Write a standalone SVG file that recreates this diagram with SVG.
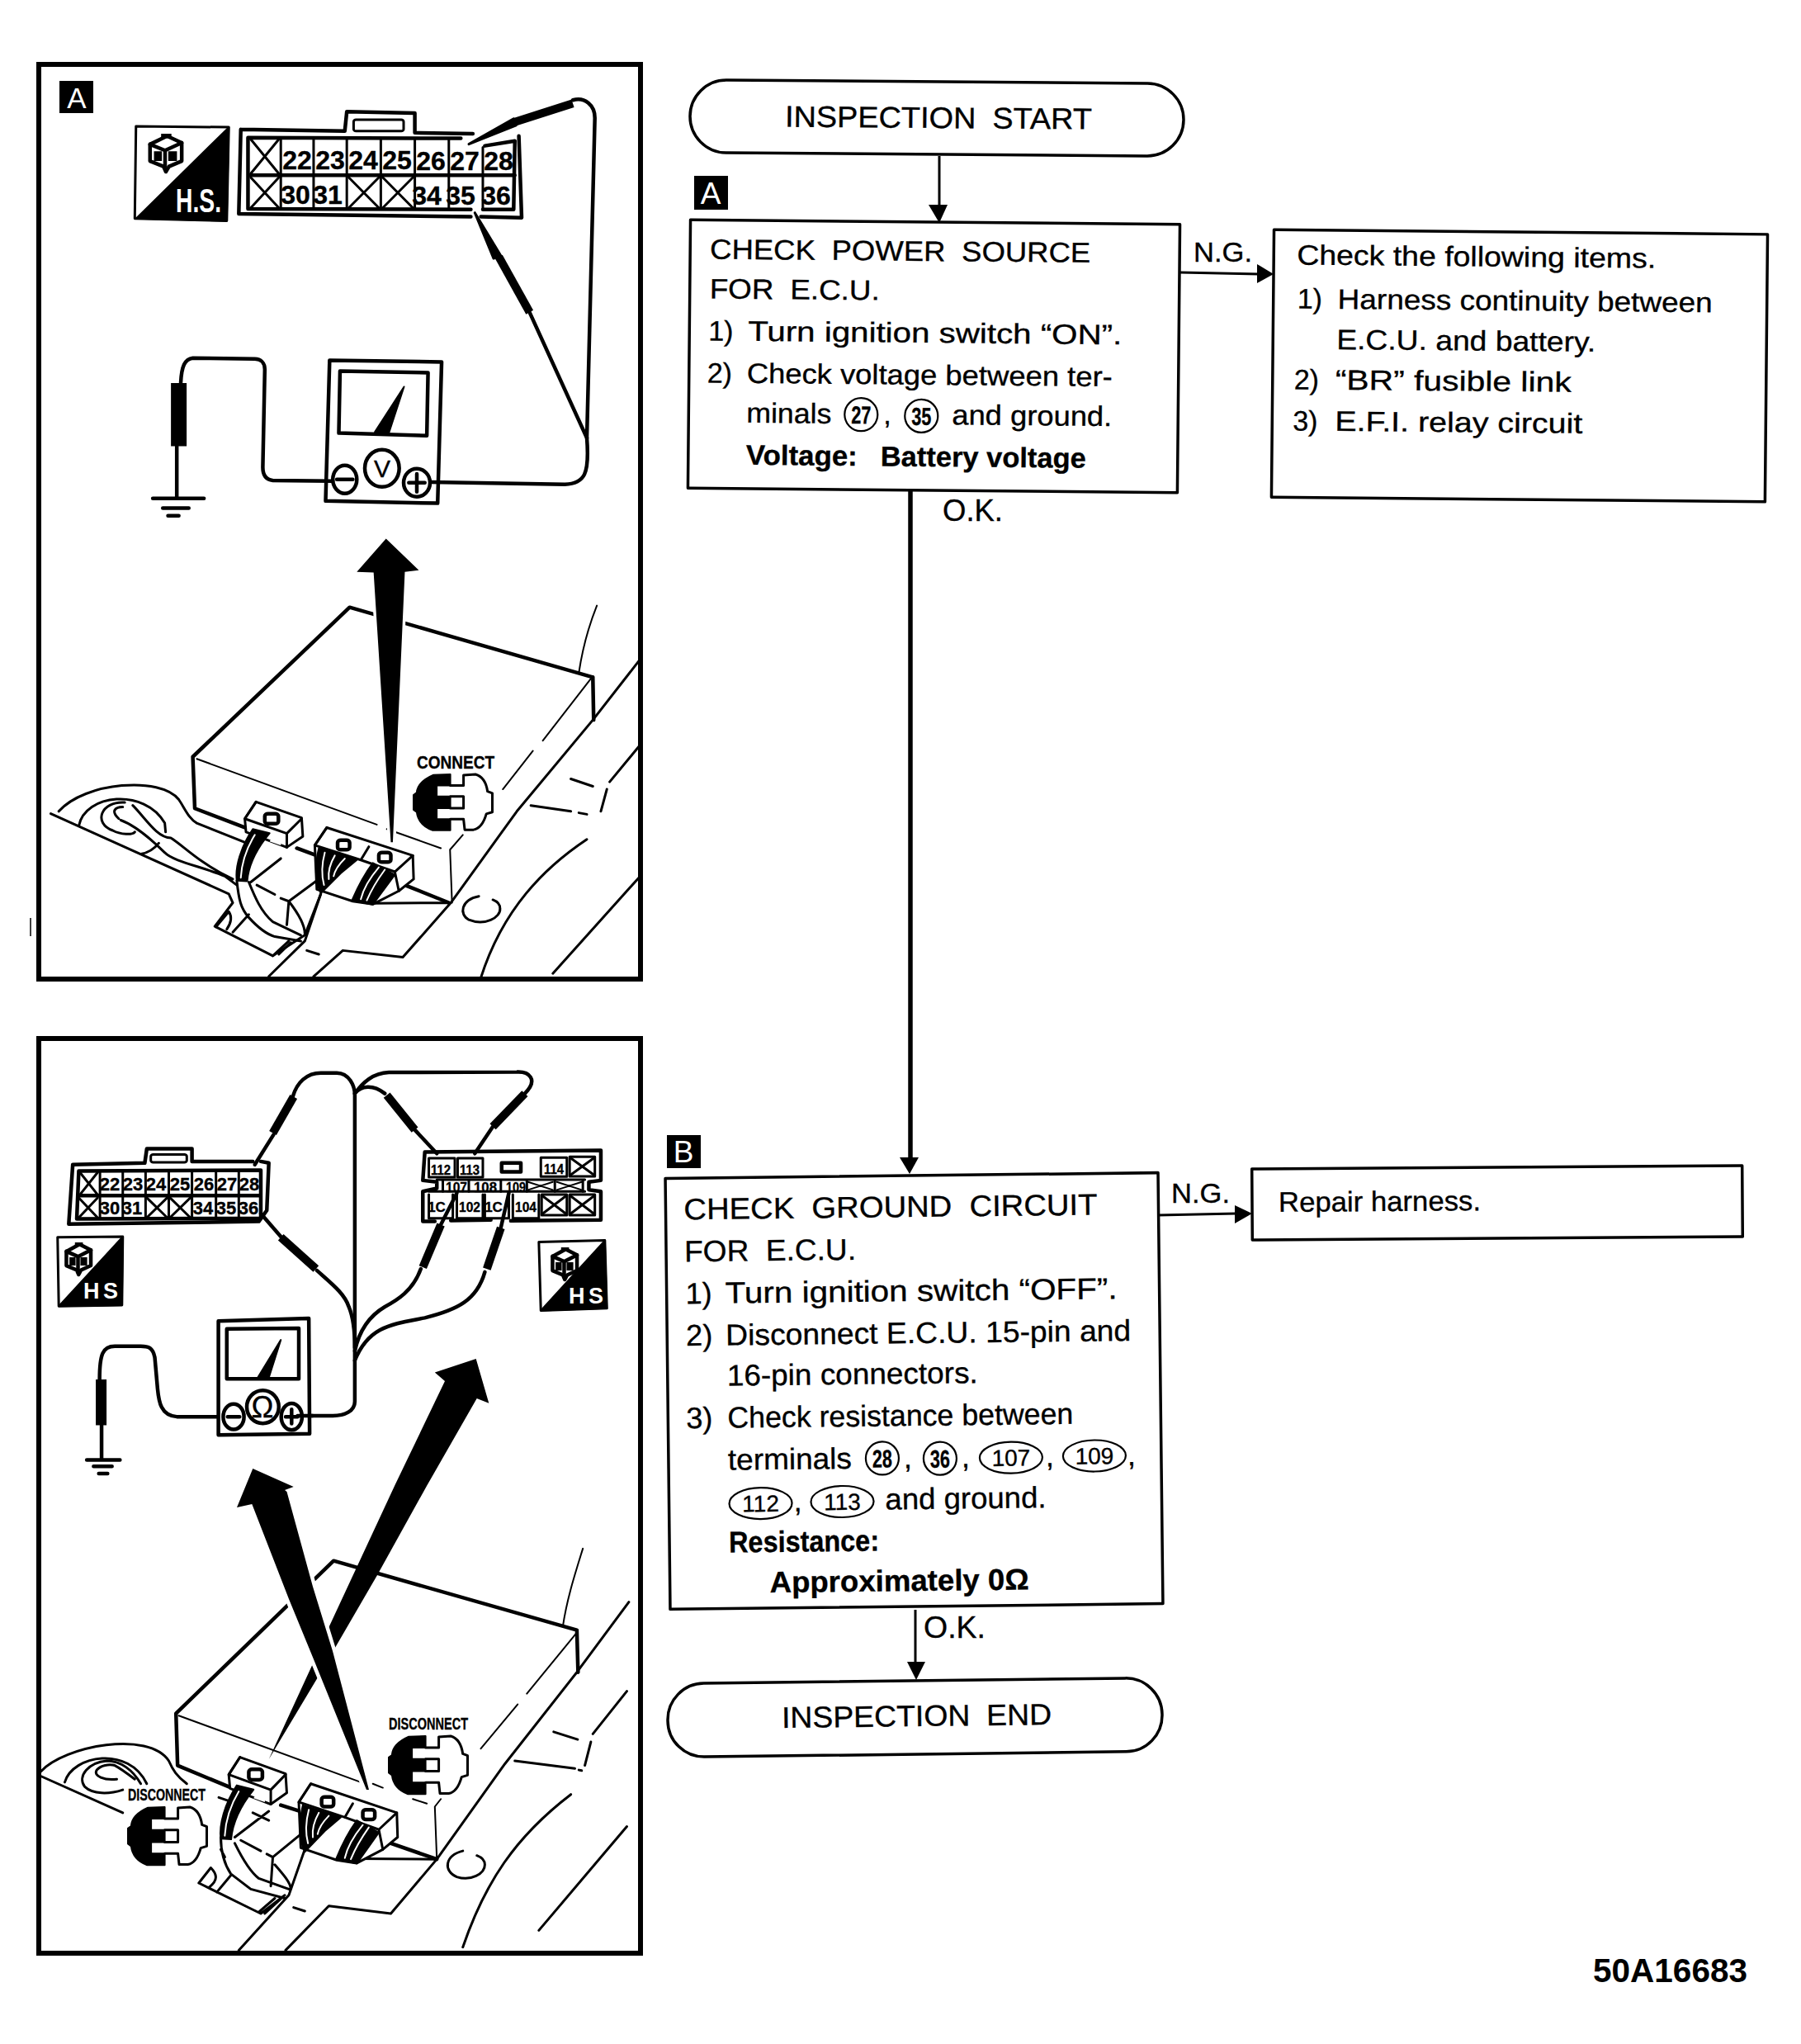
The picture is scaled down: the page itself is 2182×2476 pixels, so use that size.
<svg xmlns="http://www.w3.org/2000/svg" width="2182" height="2476" viewBox="0 0 2182 2476">
<style>
.t{font-family:"Liberation Sans",Arial,sans-serif;fill:#000;stroke:#000;stroke-width:.35}
.b{font-weight:bold}
.w{fill:#fff;stroke:none}
.f34{font-size:34px}.f36{font-size:36px}.f38{font-size:38px}
.n{font-size:32px;font-weight:bold;text-anchor:middle}
.m{font-size:22px;font-weight:bold;text-anchor:middle}
.r{font-size:17px;font-weight:bold;text-anchor:middle}
.c{font-size:30px;font-weight:bold;text-anchor:middle}
.o{font-size:30px;text-anchor:middle}
.box{fill:#fff;stroke:#000;stroke-width:3.5;stroke-linejoin:round}
.oval{fill:none;stroke:#000;stroke-width:2.2}
.line{fill:none;stroke:#000;stroke-width:3}
.head{fill:#000}
.frame{fill:none;stroke:#000;stroke-width:6}
.ill *{vector-effect:non-scaling-stroke}
.ill{fill:none;stroke:#000;stroke-width:2;stroke-linejoin:round;stroke-linecap:round}
.s2{stroke-width:3}.s3{stroke-width:4.5}
.p{stroke-width:10;stroke-linecap:butt}
.k{fill:#000}
.wf{fill:#fff}
.halo{fill:#000;stroke:#fff;stroke-width:9;paint-order:stroke}
</style>
<defs>
<g id="relay" class="ill">
<path class="wf s3" d="M12 28 L55 6 L92 24 L92 72 L60 86 L52 100 L46 86 L12 72 Z"/>
<path class="s3" d="M12 28 L50 44 L92 24 M50 44 L50 86"/>
<path class="k" stroke="none" d="M22 46 h20 v26 h-20z M58 46 h22 v26 h-22z M40 0 h26 v12 h-26z"/>
</g>
<g id="ecu-conn" class="ill">
<path class="wf s2" d="M578 928 L692 982 L695 1045 L655 1082 L553 1030 L550 985 Z"/>
<path class="s2" d="M550 985 L655 1035 L692 985 M655 1035 L655 1082 M578 928 L550 985"/>
<rect class="s3" x="600" y="968" width="34" height="34" rx="8"/>
<path class="k" d="M570 1020 C540 1080 525 1150 530 1195 L556 1197 C560 1130 590 1070 612 1034 Z"/>
<path class="wf" stroke="none" d="M622 1040 L642 1050 L640 1075 L612 1062 Z"/>
<path stroke="#fff" d="M575 1040 C552 1090 542 1140 540 1185"/>
<path class="wf s2" d="M755 1015 L970 1110 L972 1190 L935 1230 L870 1275 L820 1265 L730 1225 L725 1075 Z"/>
<path class="s2" d="M725 1075 L840 1125 L925 1165 L970 1110 M755 1015 L725 1075 M925 1165 L935 1230 M860 1080 L840 1125"/>
<rect class="s3" x="782" y="1058" width="30" height="32" rx="8"/>
<rect class="s3" x="885" y="1100" width="30" height="32" rx="8"/>
<path class="k" d="M735 1085 C725 1140 725 1200 740 1238 L790 1170 L830 1125 Z"/>
<path class="k" d="M870 1135 C840 1190 825 1240 818 1262 L870 1276 L925 1175 Z"/>
<path stroke="#fff" d="M750 1100 C742 1140 742 1180 748 1210 M775 1110 C762 1140 758 1165 760 1190 M800 1120 C785 1140 775 1160 772 1180 M885 1150 C860 1190 845 1230 840 1258 M900 1158 C880 1195 865 1230 855 1262"/>
</g>
<g id="plug" class="ill">
<path class="k" d="M92 0 L50 2 Q10 25 8 62 L0 70 L0 120 L8 128 Q12 172 48 190 L92 190 L92 152 L58 152 L58 115 L92 115 L92 75 L58 75 L58 38 L92 38 Z"/>
<path class="s2" d="M92 38 L125 38 L125 3 L155 0 Q180 10 185 58 L197 64 L197 128 L182 134 Q172 182 150 188 L128 188 L125 152 L92 152 M92 115 L125 115 L125 75 L92 75"/>
</g>
</defs>
<rect width="2182" height="2476" fill="#fff"/>

<!-- PANEL A -->
<g id="panel-a">
<rect class="frame" x="47" y="78" width="729" height="1108"/>
<line x1="37" y1="1112" x2="37" y2="1134" stroke="#000" stroke-width="1.5"/>
<g id="panel-a-badge"><rect x="72" y="98" width="41" height="39" fill="#000"/><text class="t w f38" x="93" y="131" text-anchor="middle" style="font-size:35px;stroke:none">A</text></g>
<g id="panel-a-hs">
<g class="ill" transform="translate(30,60) scale(.4847,.3954)">
<path class="wf s2" d="M278 235 L510 238 L505 525 L275 518 Z"/>
<path class="k" d="M510 238 L505 525 L278 518 Z"/>
</g>
<use href="#relay" transform="translate(176,162) scale(.48,.46)"/>
<text class="t w b" x="213" y="257" textLength="55" lengthAdjust="spacingAndGlyphs" style="font-size:40px;stroke:none">H.S.</text>
</g>
<g id="panel-a-connector">
<g class="ill" transform="translate(30,60) scale(.4847,.3954)">
<path class="s3" d="M540 245 L800 250 L805 190 L975 195 L975 255 L1120 258 M1235 265 L1242 515 L1140 512 M1115 512 L535 503 L540 245"/>
<rect class="s2" x="822" y="215" width="125" height="35" rx="6"/>
<path class="s3" d="M558 270 L1090 272 M1150 295 L1225 280 L1222 490 L1145 490 M1115 490 L558 488 L558 270 M558 385 L1225 385"/>
<path class="s2" d="M640 270V488 M722 275V488 M805 275V488 M890 275V488 M975 275V488 M1060 275V488 M1145 300V488"/>
<path class="s2" d="M565 275 L635 380 M635 275 L565 380 M565 392 L635 485 M635 392 L565 485 M810 392 L885 485 M885 392 L810 485 M895 392 L970 485 M970 392 L895 485"/>
</g>
<g class="t">
<text class="n" x="360" y="205">22</text><text class="n" x="400" y="205">23</text><text class="n" x="440" y="205">24</text><text class="n" x="481" y="205">25</text><text class="n" x="522" y="206">26</text><text class="n" x="563" y="206">27</text><text class="n" x="604" y="206">28</text>
<text class="n" x="358" y="247">30</text><text class="n" x="397" y="247">31</text><text class="n" x="517" y="248">34</text><text class="n" x="558" y="248">35</text><text class="n" x="601" y="248">36</text>
</g>
</g>
<g id="panel-a-meter">
<g class="ill" transform="translate(30,60) scale(.4847,.3954)">
<path class="s3" d="M1370 155 C1400 145 1425 170 1425 210 L1405 1190 C1412 1300 1400 1330 1350 1332 L1015 1325"/>
<path class="s3" d="M1260 800 L1405 1190"/>
<path class="p" d="M1225 222 L1370 165"/>
<path class="k s2" d="M1110 290 L1222 212 L1228 232 Z"/>
<path class="p" d="M1185 635 L1262 805"/>
<path class="k s2" d="M1125 500 L1172 640 L1190 632 Z"/>
<path class="s3" d="M762 952 L1042 957 L1032 1390 L752 1383 Z"/>
<path class="s3" d="M788 985 L1008 990 L1005 1183 L785 1175 Z"/>
<path class="k" d="M875 1172 L948 1033 L910 1175 Z"/>
<ellipse class="s3" cx="893" cy="1283" rx="43" ry="57"/>
<ellipse class="s3" cx="800" cy="1317" rx="30" ry="43"/>
<ellipse class="s3" cx="980" cy="1327" rx="33" ry="43"/>
<path class="s3" d="M780 1317 H820 M960 1327 H1000 M980 1300 V1355"/>
<path class="s3" d="M770 1322 L620 1320 C600 1318 595 1300 595 1280 L600 980 C600 960 590 948 575 948 L420 945 C400 948 392 970 390 1020"/>
<path class="p" style="stroke-width:19" d="M385 1022 V1215"/>
<path class="s3" d="M380 1215 V1375 M320 1375 H448 M345 1405 H410 M358 1428 H385"/>
</g>
<text class="t o" x="463" y="578">V</text>
</g>
<g id="panel-a-ecu">
<g class="ill" transform="translate(30,640) scale(.4847,.3571)">
<path class="s3" d="M1420 505 L812 268 L420 775 L425 950 L550 1015 M1420 505 L1422 650 M680 1085 L730 1110 M950 1210 L1060 1270"/>
<path d="M430 782 L880 1005 M905 1020 L1040 1085 M1095 1040 L1063 1090 L1068 1270 M1385 490 C1395 400 1410 330 1430 262 M1415 510 L1295 720 M1270 755 L1195 885"/>
<path class="s2" d="M1535 450 L1420 650 L1230 960 L1065 1270 L945 1455 L795 1432 L722 1520 M1065 1270 L870 1272 M1535 740 L1462 860 M1365 850 L1420 875 M1265 940 L1365 960 M1385 965 L1405 970 M1455 885 L1440 960"/>
<path class="s2" d="M1405 1055 C1300 1150 1195 1290 1140 1525 M1535 1185 L1320 1510"/>
<path class="s2" d="M1135 1248 C1090 1260 1085 1310 1110 1328 C1150 1350 1190 1320 1188 1290 C1188 1275 1180 1265 1170 1260"/>
<path class="s2" d="M65 968 L510 1240 L520 1270 L475 1350 L620 1450 L700 1380 L740 1240 M85 960 C150 860 340 840 385 920 C400 950 410 985 430 1000 L550 1065 M135 1010 C150 900 300 880 350 1000 L352 1030"/>
<path class="s2" d="M250 930 C190 925 170 1000 220 1025 C240 1040 270 1040 275 1030 M235 985 C215 960 225 945 245 945 M240 990 C280 1010 320 1060 350 1100 C370 1130 450 1150 500 1180 L530 1210 M270 940 C300 980 330 1050 365 1050 C400 1080 430 1130 520 1190 M290 1105 C310 1100 325 1085 335 1068"/>
<path class="s2" d="M565 1200 L640 1120 M580 1210 L625 1242 M640 1255 L660 1265 L730 1195 M660 1265 L655 1345 M660 1265 C680 1300 700 1340 700 1375 M530 1195 C535 1260 540 1290 560 1320 C580 1350 600 1375 625 1385 L690 1400 M560 1200 C575 1250 590 1300 620 1335 L690 1380 M740 1240 L700 1400 L610 1520 M620 1450 L660 1400 M635 1445 L665 1405 M478 1352 L510 1300 C520 1320 515 1340 505 1360 M520 1370 L560 1310 M705 1432 L735 1445"/>
</g>
<use href="#ecu-conn" transform="translate(30,640) scale(.4847,.3571)"/>
<g class="ill" transform="translate(30,640) scale(.4847,.3571)">
<path class="halo" style="stroke-width:7" d="M903 35 L985 142 L950 148 L920 1065 L915 1065 L872 150 L830 148 Z"/>
</g>
<use href="#plug" transform="translate(501,938) scale(.4847,.3571)"/>
<text class="t b" x="505" y="931" textLength="94" lengthAdjust="spacingAndGlyphs" style="font-size:22px">CONNECT</text>
</g>
</g>

<!-- PANEL B -->
<g id="panel-b">
<rect class="frame" x="47" y="1258" width="729" height="1108"/>
<g id="panel-b-connector-16">
<g class="ill" transform="translate(30,1250) scale(.4847,.3827)">
<path class="s3" d="M120 420 L300 415 L305 370 L418 370 L418 410 L570 410 M590 410 L610 415 L605 565 L585 600 L110 608 L120 420"/>
<rect class="s2" x="315" y="388" width="90" height="25" rx="6"/>
<path class="s3" d="M135 440 L590 438 L590 590 L130 592 L135 440 M135 518 L590 518"/>
<path class="s2" d="M188 440V590 M245 440V590 M302 440V590 M360 440V590 M418 440V590 M478 440V590 M535 440V590"/>
<path class="s2" d="M138 445 L182 515 M182 445 L138 515 M135 525 L182 588 M182 525 L135 588 M305 525 L356 588 M356 525 L305 588 M363 525 L414 588 M414 525 L363 588"/>
</g>
<g class="t">
<text class="m" x="133" y="1442">22</text><text class="m" x="161" y="1442">23</text><text class="m" x="189" y="1442">24</text><text class="m" x="218" y="1442">25</text><text class="m" x="247" y="1442">26</text><text class="m" x="275" y="1442">27</text><text class="m" x="302" y="1442">28</text>
<text class="m" x="133" y="1471">30</text><text class="m" x="160" y="1471">31</text><text class="m" x="246" y="1471">34</text><text class="m" x="274" y="1471">35</text><text class="m" x="301" y="1471">36</text>
</g>
</g>
<g id="panel-b-connector-15">
<g class="ill" transform="translate(30,1250) scale(.4847,.3827)">
<path class="s3" d="M1000 380 L1440 375 L1440 470 L1410 475 L1410 500 L1440 505 L1440 595 L1215 598 M1165 595 L1065 597 M1025 600 L995 600 L995 505 L1030 495 L1030 475 L995 470 L1000 380"/>
<rect class="s2" x="1010" y="400" width="65" height="60"/>
<rect class="s2" x="1082" y="400" width="63" height="60"/>
<rect class="s2" x="1290" y="398" width="65" height="60"/>
<rect class="s2" x="1362" y="395" width="63" height="62"/>
<rect class="s3" x="1192" y="415" width="48" height="28"/>
<path class="s2" d="M1030 468 H1400 M1010 505 H1400"/>
<path class="s2" d="M1045 470V505 M1110 470V505 M1190 470V505 M1255 470V505 M1325 470V505 M1395 470V505"/>
<path d="M1258 475 L1320 500 M1320 475 L1258 500 M1330 475 L1392 500 M1392 475 L1330 500"/>
<path class="s2" d="M1365 400 L1422 452 M1422 400 L1365 452"/>
<path class="s2" d="M1010 515 V590 H1070 V515 M1080 515 V590 H1145 V515 M1150 515 V590 H1210 V515 M1220 515 V590 H1285 V515 M1292 515 V580 H1355 V515 Z M1362 515 V580 H1425 V515 Z"/>
<path class="s2" d="M1295 520 L1352 575 M1352 520 L1295 575 M1365 520 L1422 575 M1422 520 L1365 575"/>
</g>
<g class="t">
<text class="r" x="534" y="1423" textLength="24" lengthAdjust="spacingAndGlyphs">112</text><text class="r" x="569" y="1423" textLength="24" lengthAdjust="spacingAndGlyphs">113</text><text class="r" x="671" y="1422" textLength="24" lengthAdjust="spacingAndGlyphs">114</text>
<text class="r" x="553" y="1444" textLength="26" lengthAdjust="spacingAndGlyphs">107</text><text class="r" x="588" y="1444" textLength="28" lengthAdjust="spacingAndGlyphs">108</text><text class="r" x="625" y="1444" textLength="24" lengthAdjust="spacingAndGlyphs">109</text>
<text class="r" x="529" y="1468">1C</text><text class="r" x="569" y="1468" textLength="26" lengthAdjust="spacingAndGlyphs">102</text><text class="r" x="598" y="1468">1C</text><text class="r" x="637" y="1468" textLength="26" lengthAdjust="spacingAndGlyphs">104</text>
</g>
</g>
<g id="panel-b-hs-left">
<g class="ill" transform="translate(30,1250) scale(.4847,.3827)">
<path class="wf s2" d="M82 650 L245 648 L243 865 L85 868 Z"/>
<path class="k" d="M245 648 L243 865 L85 868 Z"/>
</g>
<use href="#relay" transform="translate(76,1505) scale(.37,.39)"/>
<text class="t w b" x="101" y="1573" style="font-size:27px;stroke:none;word-spacing:-3px">H S</text>
</g>
<g id="panel-b-hs-right">
<g class="ill" transform="translate(30,1250) scale(.4847,.3827)">
<path class="wf s2" d="M1285 665 L1450 660 L1455 875 L1290 882 Z"/>
<path class="k" d="M1450 660 L1455 875 L1290 882 Z"/>
</g>
<use href="#relay" transform="translate(665,1511) scale(.37,.39)"/>
<text class="t w b" x="689" y="1579" style="font-size:27px;stroke:none;word-spacing:-3px">H S</text>
</g>
<g id="panel-b-meter">
<g class="ill" transform="translate(30,1250) scale(.4847,.3827)">
<path class="s3" d="M670 205 C680 160 705 130 740 130 L780 130 C810 130 825 170 825 200 L825 1170 C825 1200 800 1215 770 1215 L695 1215"/>
<path class="s3" d="M730 755 C770 800 800 830 810 870 C820 900 825 950 825 1000"/>
<path class="s3" d="M900 195 C870 165 840 170 825 195 M1250 195 C1285 150 1260 125 1230 127 L910 128 C870 130 845 160 825 195"/>
<path class="s3" d="M990 750 C970 820 930 850 900 870 C860 900 835 950 825 1010 M1150 760 C1130 850 1080 880 1000 905 C920 925 860 930 825 1040"/>
<path class="p" d="M620 320 L672 205"/><path class="s3" d="M575 420 L622 325"/>
<path class="p" d="M640 650 L728 750"/><path class="s3" d="M590 575 L645 655"/>
<path class="p" d="M975 310 L905 200"/><path class="s3" d="M1030 385 L975 310"/>
<path class="p" d="M1170 300 L1250 195"/><path class="s3" d="M1125 385 L1170 300"/>
<path class="p" d="M1040 610 L995 745"/><path class="s3" d="M1080 510 L1040 610"/>
<path class="p" d="M1190 620 L1155 750"/><path class="s3" d="M1210 510 L1190 620"/>
<path class="s3 wf" d="M484 915 L710 907 L712 1272 L484 1276 Z"/>
<path class="s3" d="M505 940 L685 938 L685 1098 L505 1098 Z"/>
<path class="k" d="M582 1095 L640 975 L610 1095 Z"/>
<ellipse class="s3" cx="595" cy="1187" rx="40" ry="52"/>
<ellipse class="s3" cx="522" cy="1218" rx="26" ry="40"/>
<ellipse class="s3" cx="667" cy="1218" rx="26" ry="42"/>
<path class="s3" d="M507 1218 H537 M652 1218 H682 M667 1195 V1240 M682 1215 H720"/>
<path class="s3" d="M480 1218 L380 1218 C340 1215 335 1170 332 1130 L325 1030 C320 1000 310 995 290 995 L225 995 C195 995 187 1020 187 1100"/>
<path class="p" style="stroke-width:13" d="M191 1100 V1245"/>
<path class="s3" d="M192 1245 V1355 M155 1355 H238 M172 1375 H218 M185 1398 H207"/>
</g>
<text class="t o" x="318" y="1717" style="font-size:36px">Ω</text>
</g>
<g id="panel-b-ecu">
<g class="ill" transform="translate(30,1800) scale(.4847,.37)">
<path class="s3" d="M1380 472 L772 245 L378 745 L382 915 L510 985 M1380 472 L1383 610 M640 1045 L700 1070 M915 1170 L1030 1222"/>
<path d="M385 752 L840 970 M870 975 L895 988 M970 1025 L1005 1040 M1040 1025 L1025 1050 L1030 1222 M1345 460 C1355 370 1375 290 1395 205 M1380 480 L1255 680 M1232 715 L1140 860"/>
<path class="s2" d="M1510 380 L1380 610 L1200 910 L1030 1222 L915 1400 L760 1375 L652 1520 M1030 1222 L830 1220 M1505 672 L1420 812 M1322 805 L1382 830 M1225 900 L1375 925 M1385 930 L1392 932 M1415 838 L1400 915"/>
<path class="s2" d="M1365 1010 C1225 1150 1150 1300 1095 1510 M1505 1115 L1285 1455"/>
<path class="s2" d="M1095 1195 C1050 1210 1045 1260 1080 1280 C1115 1295 1150 1270 1150 1240 C1150 1225 1140 1215 1130 1210"/>
<path class="s2" d="M40 950 L245 1070 M40 935 C100 850 310 800 360 900 C370 930 380 950 405 975 M100 970 C120 880 260 850 305 975"/>
<path class="s2" d="M290 975 C270 930 240 900 205 900 C160 905 130 950 150 985 C170 1010 210 1010 245 995 M230 960 C200 965 170 950 180 930 C190 915 210 910 225 915 C240 925 260 945 275 960"/>
<path class="s2" d="M525 1150 L610 1065 M540 1160 L590 1195 M605 1205 L620 1215 L690 1140 M620 1215 L615 1310 M625 1240 C645 1270 665 1300 665 1320 M490 1150 C490 1200 500 1240 515 1270 L565 1320 L650 1350 M525 1170 C540 1210 560 1260 585 1285 L660 1320 M700 1190 L660 1340 L535 1520 M435 1300 L465 1250 C480 1270 485 1290 460 1315 M435 1300 L590 1400 L650 1340 M480 1330 L515 1275 M585 1395 L625 1350 M600 1400 L640 1352 M672 1380 L700 1392 M485 1020 L530 1040 M570 1070 L610 1095 M490 1190 L500 1215"/>
</g>
<use href="#ecu-conn" transform="translate(10.6,1785.2) scale(.4847,.37)"/>
<g class="ill">
<path class="halo" style="stroke-width:0" d="M576.7 1646 L592.3 1699.7 L577.7 1694 L517 1800 L456.5 1909 L388.7 2025.7 L325.7 2131 L381 2011 L398 1972 L478 1800 L539 1673 L526.8 1662.5 Z"/>
<path class="halo" d="M306.3 1779 L355.7 1801 L345 1805 L347.5 1807 L379 1922 L403 2000 L447 2168 L444 2168 L380 2010 L350 1937 L305.3 1822 L287 1826 Z"/>
</g>
<use href="#plug" transform="translate(155,2189) scale(.4847,.37)"/>
<use href="#plug" transform="translate(471,2103) scale(.4847,.37)"/>
<text class="t b" x="155" y="2181" textLength="94" lengthAdjust="spacingAndGlyphs" style="font-size:20px">DISCONNECT</text>
<text class="t b" x="471" y="2095" textLength="96" lengthAdjust="spacingAndGlyphs" style="font-size:20px">DISCONNECT</text>
</g>
</g>

<!-- FLOW -->
<g id="connectors">
<path class="line" d="M1138 189 V250"/><path class="head" d="M1125 248 L1148 248 L1138 270 Z"/>
<path class="line" style="stroke-width:5.5" d="M1089 592 H1157 M1103 592 V1404"/><path class="head" d="M1090 1402 L1113 1402 L1102 1422 Z"/>
<path class="line" d="M1430 330 L1525 332"/><path class="head" d="M1523 320 L1543 332 L1523 343 Z"/>
<path class="line" d="M1403 1472 L1498 1470"/><path class="head" d="M1496 1460 L1517 1470 L1496 1482 Z"/>
<path class="line" d="M1109 1950 V2015"/><path class="head" d="M1099 2013 L1121 2013 L1110 2035 Z"/>
<g id="connector-labels">
<text class="t f34" x="1446" y="317" textLength="71" lengthAdjust="spacingAndGlyphs">N.G.</text>
<text class="t f36" x="1142" y="631" textLength="73" lengthAdjust="spacingAndGlyphs">O.K.</text>
<text class="t f34" x="1419" y="1457" textLength="71" lengthAdjust="spacingAndGlyphs">N.G.</text>
<text class="t f36" x="1119" y="1984" textLength="75" lengthAdjust="spacingAndGlyphs">O.K.</text>
</g>
</g>
<g id="node-start" transform="rotate(.45 1135 143)">
<rect class="box" x="836" y="99" width="598" height="88" rx="44"/>
<text class="t f36" x="951" y="155" textLength="372" lengthAdjust="spacingAndGlyphs" style="word-spacing:9px">INSPECTION START</text>
</g>
<g id="badge-a"><rect x="841" y="213" width="41" height="41" fill="#000"/><text class="t w" x="861" y="247" text-anchor="middle" style="font-size:37px;stroke:none">A</text></g>
<g id="node-power" transform="rotate(.55 1130 430)">
<rect class="box" x="835" y="269" width="593" height="325"/>
<text class="t f34" x="859" y="316" textLength="461" lengthAdjust="spacingAndGlyphs" style="word-spacing:9px">CHECK POWER SOURCE</text>
<text class="t f34" x="859" y="364" textLength="206" lengthAdjust="spacingAndGlyphs" style="word-spacing:9px">FOR E.C.U.</text>
<text class="t f34" x="858" y="415">1)</text>
<text class="t f34" x="906" y="415" textLength="453" lengthAdjust="spacingAndGlyphs">Turn ignition switch “ON”.</text>
<text class="t f34" x="857" y="466">2)</text>
<text class="t f34" x="905" y="466" textLength="443" lengthAdjust="spacingAndGlyphs">Check voltage between ter-</text>
<text class="t f34" x="905" y="514" textLength="103" lengthAdjust="spacingAndGlyphs">minals</text>
<ellipse class="oval" cx="1044" cy="503" rx="20" ry="20"/><text class="t c" x="1044" y="514" textLength="24" lengthAdjust="spacingAndGlyphs">27</text>
<text class="t f34" x="1071" y="514">,</text>
<ellipse class="oval" cx="1117" cy="504" rx="20" ry="20"/><text class="t c" x="1117" y="515" textLength="24" lengthAdjust="spacingAndGlyphs">35</text>
<text class="t f34" x="1154" y="514" textLength="194" lengthAdjust="spacingAndGlyphs">and ground.</text>
<text class="t f34 b" x="905" y="565" textLength="135" lengthAdjust="spacingAndGlyphs">Voltage:</text>
<text class="t f34 b" x="1068" y="565" textLength="249" lengthAdjust="spacingAndGlyphs">Battery voltage</text>
</g>
<g id="node-check" transform="rotate(.55 1840 440)">
<rect class="box" x="1542" y="281" width="598" height="324"/>
<text class="t f34" x="1570" y="323" textLength="435" lengthAdjust="spacingAndGlyphs">Check the following items.</text>
<text class="t f34" x="1571" y="376">1)</text>
<text class="t f34" x="1620" y="376" textLength="454" lengthAdjust="spacingAndGlyphs">Harness continuity between</text>
<text class="t f34" x="1619" y="425" textLength="314" lengthAdjust="spacingAndGlyphs">E.C.U. and battery.</text>
<text class="t f34" x="1568" y="474">2)</text>
<text class="t f34" x="1618" y="474" textLength="286" lengthAdjust="spacingAndGlyphs">“BR” fusible link</text>
<text class="t f34" x="1567" y="524">3)</text>
<text class="t f34" x="1618" y="524" textLength="300" lengthAdjust="spacingAndGlyphs">E.F.I. relay circuit</text>
</g>
<g id="badge-b"><rect x="808" y="1375" width="41" height="40" fill="#000"/><text class="t w" x="828" y="1408" text-anchor="middle" style="font-size:37px;stroke:none">B</text></g>
<g id="node-ground" transform="rotate(-.65 1107 1685)">
<rect class="box" x="809" y="1424" width="597" height="522"/>
<text class="t f36" x="831" y="1474" textLength="501" lengthAdjust="spacingAndGlyphs" style="word-spacing:10px">CHECK GROUND CIRCUIT</text>
<text class="t f36" x="831" y="1525" textLength="208" lengthAdjust="spacingAndGlyphs" style="word-spacing:10px">FOR E.C.U.</text>
<text class="t f36" x="832" y="1576">1)</text>
<text class="t f36" x="880" y="1576" textLength="475" lengthAdjust="spacingAndGlyphs">Turn ignition switch “OFF”.</text>
<text class="t f36" x="832" y="1627">2)</text>
<text class="t f36" x="880" y="1627" textLength="491" lengthAdjust="spacingAndGlyphs">Disconnect E.C.U. 15-pin and</text>
<text class="t f36" x="881" y="1676" textLength="304" lengthAdjust="spacingAndGlyphs">16-pin connectors.</text>
<text class="t f36" x="831" y="1727">3)</text>
<text class="t f36" x="881" y="1727" textLength="419" lengthAdjust="spacingAndGlyphs">Check resistance between</text>
<text class="t f36" x="881" y="1778" textLength="150" lengthAdjust="spacingAndGlyphs">terminals</text>
<ellipse class="oval" cx="1068" cy="1766" rx="20" ry="20"/><text class="t c" x="1068" y="1777" textLength="24" lengthAdjust="spacingAndGlyphs">28</text>
<text class="t f36" x="1094" y="1778">,</text>
<ellipse class="oval" cx="1138" cy="1767" rx="20" ry="20"/><text class="t c" x="1138" y="1778" textLength="24" lengthAdjust="spacingAndGlyphs">36</text>
<text class="t f36" x="1164" y="1778">,</text>
<ellipse class="oval" cx="1224" cy="1767" rx="38" ry="19"/><text class="t" x="1224" y="1777" text-anchor="middle" style="font-size:28px">107</text>
<text class="t f36" x="1266" y="1778">,</text>
<ellipse class="oval" cx="1325" cy="1766" rx="38" ry="19"/><text class="t" x="1325" y="1776" text-anchor="middle" style="font-size:28px">109</text>
<text class="t f36" x="1365" y="1778">,</text>
<ellipse class="oval" cx="920" cy="1819" rx="38" ry="19"/><text class="t" x="920" y="1829" text-anchor="middle" style="font-size:28px">112</text>
<text class="t f36" x="960" y="1829">,</text>
<ellipse class="oval" cx="1019" cy="1818" rx="38" ry="19"/><text class="t" x="1019" y="1828" text-anchor="middle" style="font-size:28px">113</text>
<text class="t f36" x="1071" y="1828" textLength="195" lengthAdjust="spacingAndGlyphs">and ground.</text>
<text class="t f36 b" x="881" y="1878" textLength="182" lengthAdjust="spacingAndGlyphs">Resistance:</text>
<text class="t f36 b" x="930" y="1927" textLength="314" lengthAdjust="spacingAndGlyphs">Approximately 0Ω</text>
</g>
<g id="node-repair" transform="rotate(-.4 1814 1457)">
<rect class="box" x="1517" y="1414" width="594" height="86"/>
<text class="t f34" x="1549" y="1466" textLength="245" lengthAdjust="spacingAndGlyphs">Repair harness.</text>
</g>
<g id="node-end" transform="rotate(-.7 1108 2080)">
<rect class="box" x="809" y="2036" width="599" height="89" rx="44"/>
<text class="t f36" x="947" y="2091" textLength="327" lengthAdjust="spacingAndGlyphs" style="word-spacing:9px">INSPECTION END</text>
</g>
<g id="drawing-number"><text class="t b" x="1930" y="2401" textLength="187" lengthAdjust="spacingAndGlyphs" style="font-size:41px;stroke:none">50A16683</text></g>
</svg>
